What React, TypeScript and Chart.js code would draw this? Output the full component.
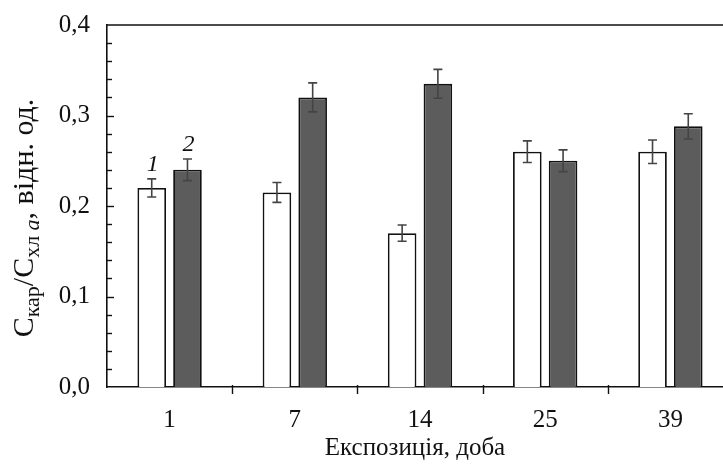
import React, { useEffect, useRef } from "react";
import { Chart, registerables } from "chart.js";

Chart.register(...registerables);

const categories = ["1", "7", "14", "25", "39"];
const series1 = [0.22, 0.215, 0.17, 0.26, 0.26];
const errors1 = [0.01, 0.011, 0.009, 0.012, 0.013];
const series2 = [0.24, 0.32, 0.335, 0.25, 0.288];
const errors2 = [0.012, 0.016, 0.016, 0.012, 0.014];
const seriesMarks = ["1", "2"];
const yMajorTicks = [0, 0.1, 0.2, 0.3, 0.4];
const yMinorStep = 0.02;
const xTitle = "Експозиція, доба";

const FONT = "'Liberation Serif', 'DejaVu Serif', serif";
const FS = 25;
const YT = 30;

const errorBarPlugin = {
  id: "errorBars",
  afterDatasetsDraw(chart: any) {
    const ctx = chart.ctx;
    const y = chart.scales.y;
    const errs = [errors1, errors2];
    ctx.save();
    ctx.strokeStyle = "#444";
    ctx.lineWidth = 1.6;
    chart.data.datasets.forEach((ds: any, di: number) => {
      const meta = chart.getDatasetMeta(di);
      meta.data.forEach((bar: any, i: number) => {
        const v = ds.data[i];
        const e = errs[di][i];
        const yt = y.getPixelForValue(v + e);
        const yb = y.getPixelForValue(v - e);
        const x = bar.x;
        ctx.beginPath();
        ctx.moveTo(x, yt);
        ctx.lineTo(x, yb);
        ctx.moveTo(x - 4.5, yt);
        ctx.lineTo(x + 4.5, yt);
        ctx.moveTo(x - 4.5, yb);
        ctx.lineTo(x + 4.5, yb);
        ctx.stroke();
        if (i === 0) {
          ctx.fillStyle = "#111";
          ctx.font = `italic 24px ${FONT}`;
          ctx.textAlign = "center";
          ctx.textBaseline = "alphabetic";
          ctx.fillText(seriesMarks[di], x + 1, yt - 8);
        }
      });
    });
    ctx.restore();
  },
};

const framePlugin = {
  id: "frame",
  afterDraw(chart: any) {
    const ctx = chart.ctx;
    const { left, right, top, bottom } = chart.chartArea;
    const y = chart.scales.y;
    const x = chart.scales.x;
    ctx.save();
    ctx.strokeStyle = "#111";
    ctx.lineWidth = 1.6;
    // top frame line
    ctx.beginPath();
    ctx.moveTo(left, top);
    ctx.lineTo(right, top);
    ctx.stroke();
    // y ticks inward
    ctx.lineWidth = 1.4;
    const n = Math.round(0.4 / yMinorStep);
    for (let k = 1; k < n; k++) {
      const v = k * yMinorStep;
      const py = Math.round(y.getPixelForValue(v)) + 0.5;
      const major = yMajorTicks.some((t) => Math.abs(t - v) < 1e-9);
      ctx.beginPath();
      ctx.moveTo(left, py);
      ctx.lineTo(left + (major ? 7 : 5), py);
      ctx.stroke();
    }
    // x ticks between categories
    for (let i = 0; i < categories.length - 1; i++) {
      const px = Math.round((x.getPixelForValue(i) + x.getPixelForValue(i + 1)) / 2) + 0.5;
      ctx.beginPath();
      ctx.moveTo(px, bottom - 2);
      ctx.lineTo(px, bottom + 7);
      ctx.stroke();
    }
    // x axis title
    ctx.fillStyle = "#111";
    ctx.font = `${FS}px ${FONT}`;
    ctx.textAlign = "center";
    ctx.textBaseline = "alphabetic";
    ctx.fillText(xTitle, 415, 455);
    // y axis title with subscripts
    const main = `${YT}px ${FONT}`;
    const sub = `${Math.round(YT * 0.72)}px ${FONT}`;
    const subIt = `italic ${Math.round(YT * 0.72)}px ${FONT}`;
    const parts: [string, string, number][] = [
      ["C", main, 0],
      ["кар", sub, 6],
      ["/C", main, 0],
      ["хл ", sub, 6],
      ["a", subIt, 6],
      [", відн. од.", main, 0],
    ];
    let total = 0;
    parts.forEach(([t, f]) => {
      ctx.font = f;
      total += ctx.measureText(t).width;
    });
    ctx.translate(33, 218);
    ctx.rotate(-Math.PI / 2);
    ctx.textAlign = "left";
    let cx = -total / 2;
    parts.forEach(([t, f, dy]) => {
      ctx.font = f;
      ctx.fillText(t, cx, dy);
      cx += ctx.measureText(t).width;
    });
    ctx.restore();
  },
};

export default function App() {
  const ref = useRef<HTMLCanvasElement>(null);
  useEffect(() => {
    document.body.style.margin = "0";
    const chart = new Chart(ref.current!, {
      type: "bar",
      data: {
        labels: categories,
        datasets: [
          {
            data: series1,
            backgroundColor: "#ffffff",
            borderColor: "#111",
            borderWidth: 1.8,
            categoryPercentage: 0.571,
            barPercentage: 0.8,
          },
          {
            data: series2,
            backgroundColor: "#5c5c5c",
            borderColor: "#111",
            borderWidth: 1.8,
            categoryPercentage: 0.571,
            barPercentage: 0.8,
          },
        ],
      },
      options: {
        animation: false,
        responsive: false,
        maintainAspectRatio: false,
        layout: { padding: { top: 25, right: 7, left: 0, bottom: 0 } },
        plugins: { legend: { display: false }, tooltip: { enabled: false } },
        scales: {
          x: {
            grid: { display: false, drawTicks: false },
            border: { display: true, color: "#111", width: 1.6 },
            ticks: {
              color: "#111",
              font: { family: FONT, size: FS },
              padding: 18,
              maxRotation: 0,
            },
            afterFit: (s: any) => {
              s.height = 80;
              s.paddingLeft = 0;
              s.paddingRight = 0;
            },
          },
          y: {
            min: 0,
            max: 0.4,
            grid: { display: false, drawTicks: false },
            border: { display: true, color: "#111", width: 1.6 },
            ticks: {
              stepSize: 0.1,
              color: "#111",
              padding: 17,
              font: { family: FONT, size: FS },
              callback: (v: any) => Number(v).toFixed(1).replace(".", ","),
            },
            afterFit: (s: any) => {
              s.width = 107;
              s.paddingTop = 0;
              s.paddingBottom = 0;
            },
          },
        },
      },
      plugins: [errorBarPlugin, framePlugin],
    });
    return () => chart.destroy();
  }, []);
  return (
    <div style={{ width: 723, height: 467, overflow: "hidden", background: "#fff" }}>
      <canvas ref={ref} width={740} height={467} style={{ display: "block" }} />
    </div>
  );
}
